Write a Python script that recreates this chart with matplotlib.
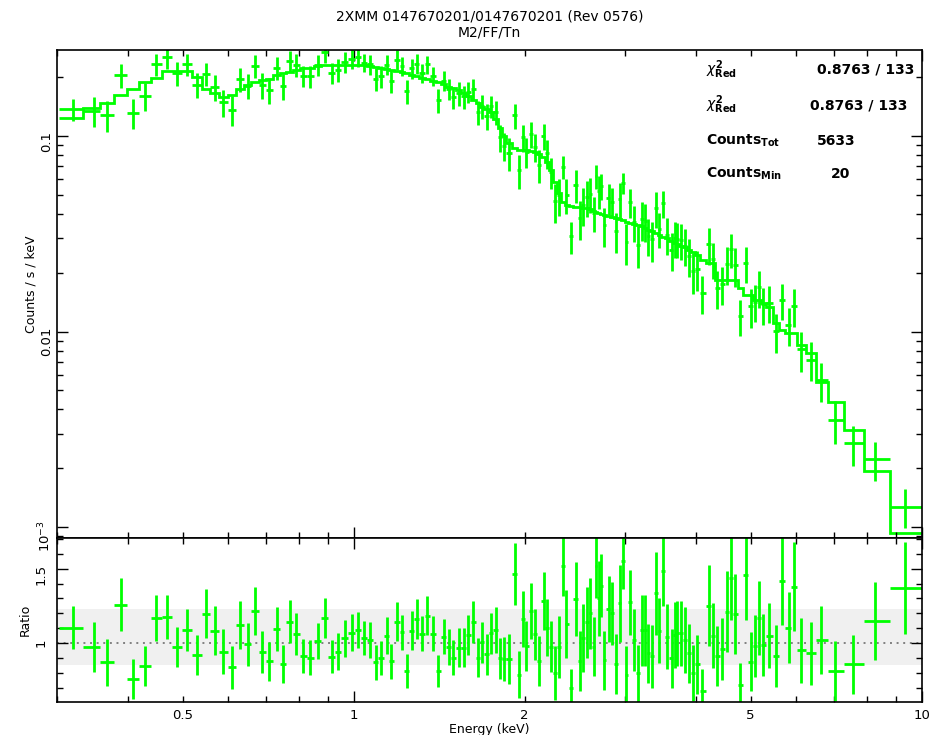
import numpy as np
import matplotlib
matplotlib.use('Agg')
import matplotlib.pyplot as plt

plt.rcParams['font.family'] = ['DejaVu Sans']
plt.rcParams['mathtext.fontset'] = 'dejavusans'

# bin centres in keV
energy = [0.320, 0.348, 0.368, 0.389, 0.409, 0.429, 0.449, 0.469, 0.489, 0.509,
          0.530, 0.549, 0.569, 0.589, 0.610, 0.631, 0.650, 0.670, 0.690, 0.710,
          0.731, 0.751, 0.771, 0.792, 0.814, 0.838, 0.864, 0.889, 0.915, 0.938,
          0.964, 0.991, 1.015, 1.040, 1.068, 1.093, 1.116, 1.142, 1.165, 1.193,
          1.216, 1.239, 1.266, 1.290, 1.317, 1.348, 1.381, 1.407, 1.441, 1.471,
          1.497, 1.531, 1.563, 1.588, 1.623, 1.654, 1.683, 1.713, 1.746, 1.777,
          1.808,
          1.838, 1.875, 1.919, 1.952, 1.984, 2.014, 2.053, 2.083, 2.117, 2.160,
          2.190, 2.226, 2.265, 2.295, 2.333, 2.368, 2.413, 2.459, 2.499, 2.534,
          2.575, 2.610, 2.653, 2.674, 2.699, 2.725, 2.762, 2.810, 2.850, 2.891,
          2.938, 2.979, 3.019, 3.068, 3.118, 3.165, 3.217, 3.260, 3.304, 3.350,
          3.404, 3.454, 3.502, 3.559, 3.632, 3.681, 3.715, 3.766, 3.833, 3.895,
          3.954, 4.019, 4.110, 4.230, 4.289, 4.358, 4.458, 4.549, 4.613, 4.694,
          4.790, 4.900, 5.000, 5.088, 5.177, 5.248, 5.391, 5.539,
          5.682, 5.831, 5.958, 6.129, 6.381, 6.664, 7.033, 7.574, 8.293, 9.337]

# folded model, counts/s/keV (step curve in top panel)
model = [0.124, 0.1386, 0.148, 0.163, 0.1738, 0.1896, 0.1987, 0.2158, 0.2158, 0.214,
         0.1995, 0.1738, 0.165, 0.158, 0.163, 0.1738, 0.1824, 0.188, 0.193, 0.196,
         0.205, 0.209, 0.212, 0.218, 0.222, 0.224, 0.228, 0.230, 0.231, 0.232,
         0.232, 0.232, 0.232, 0.230, 0.229, 0.226, 0.224, 0.221, 0.218, 0.215,
         0.212, 0.209, 0.205, 0.202, 0.199, 0.196, 0.192, 0.188, 0.184, 0.179,
         0.175, 0.171, 0.165, 0.160, 0.153, 0.147, 0.141, 0.137, 0.133, 0.122,
         0.110,
         0.100, 0.092, 0.087, 0.085, 0.0848, 0.0845, 0.084, 0.083, 0.081, 0.078,
         0.074, 0.067, 0.058, 0.051, 0.046, 0.0445, 0.044, 0.0436, 0.0433, 0.043,
         0.0427, 0.0423, 0.0415, 0.041, 0.0405, 0.040, 0.0395, 0.039, 0.0385, 0.038,
         0.0375, 0.037, 0.0365, 0.036, 0.0355, 0.035, 0.0345, 0.034, 0.0332, 0.0325,
         0.032, 0.031, 0.0305, 0.030, 0.0292, 0.0285, 0.028, 0.0275, 0.027, 0.0262,
         0.0255, 0.0245, 0.0233, 0.0223, 0.0223, 0.0183, 0.0183, 0.0183, 0.0183, 0.0183,
         0.01665, 0.0154, 0.0154, 0.01447, 0.01447, 0.0140, 0.0134, 0.0110,
         0.0102, 0.0098, 0.0098, 0.00853, 0.00774, 0.00553, 0.00437, 0.00313, 0.00194, 0.00093]

# data / model
ratio = [1.103, 0.973, 0.869, 1.257, 0.757, 0.845, 1.171, 1.176, 0.973, 1.088,
         0.919, 1.198, 1.083, 0.941, 0.836, 1.122, 0.991, 1.216, 0.941, 0.878,
         1.092, 0.860, 1.144, 1.059, 0.914, 0.901, 1.014, 1.167, 0.908, 0.941,
         1.032, 1.070, 1.090, 1.032, 1.020, 0.869, 0.901, 1.050, 0.878, 1.144,
         1.072, 0.811, 1.083, 1.162, 1.061, 1.185, 1.061, 0.811, 1.043, 0.975,
         0.901, 0.968, 0.968, 1.054, 1.140, 0.901, 1.005, 0.923, 1.065, 1.088,
         0.896,
         0.892, 0.892, 1.464, 0.788, 1.162, 0.982, 1.216, 1.059, 0.878, 1.284,
         1.104, 0.975, 0.799, 0.975, 1.516, 1.126, 0.698, 1.295, 0.878, 1.032,
         1.140, 1.200, 0.975, 1.516, 1.300, 1.387, 0.883, 1.230, 1.200, 0.860,
         1.268, 1.554, 0.788, 1.275, 1.020, 0.795, 1.086, 1.086, 0.930, 0.910,
         1.336, 1.083, 1.482, 1.043, 0.896, 1.054, 1.065, 1.065, 1.020, 0.930,
         0.800, 0.856, 0.676, 1.252, 1.050, 0.914, 0.960, 1.212, 1.437, 1.198,
         0.718, 1.455, 0.874, 0.982, 1.167, 0.986, 1.050, 0.914,
         1.419, 1.104, 1.380, 0.950, 0.930, 1.020, 0.811, 0.856, 1.149, 1.370]

ratio_err = [0.143, 0.167, 0.157, 0.178, 0.135, 0.137, 0.155, 0.150, 0.133, 0.142,
             0.135, 0.165, 0.163, 0.151, 0.143, 0.160, 0.146, 0.160, 0.141, 0.132,
             0.149, 0.130, 0.146, 0.140, 0.115, 0.118, 0.120, 0.135, 0.113, 0.124,
             0.124, 0.124, 0.122, 0.113, 0.120, 0.115, 0.113, 0.124, 0.118, 0.133,
             0.120, 0.113, 0.130, 0.135, 0.118, 0.130, 0.118, 0.110, 0.120, 0.120,
             0.117, 0.132, 0.130, 0.133, 0.140, 0.130, 0.139, 0.135, 0.140, 0.157,
             0.140,
             0.150, 0.170, 0.210, 0.158, 0.188, 0.169, 0.188, 0.170, 0.170, 0.197,
             0.190, 0.173, 0.180, 0.210, 0.200, 0.230, 0.130, 0.250, 0.200, 0.230,
             0.240, 0.240, 0.200, 0.210, 0.250, 0.210, 0.200, 0.220, 0.210, 0.200,
             0.260, 0.190, 0.190, 0.220, 0.210, 0.190, 0.240, 0.240, 0.200, 0.210,
             0.280, 0.220, 0.230, 0.220, 0.200, 0.220, 0.220, 0.220, 0.220, 0.200,
             0.190, 0.200, 0.150, 0.270, 0.220, 0.200, 0.210, 0.270, 0.280, 0.270,
             0.150, 0.300, 0.200, 0.210, 0.250, 0.210, 0.220, 0.210,
             0.300, 0.240, 0.300, 0.220, 0.210, 0.230, 0.200, 0.200, 0.260, 0.310]

e_lo, e_hi = 0.303, 10.0
band_lo, band_hi = 0.85, 1.23

title1 = '2XMM 0147670201/0147670201 (Rev 0576)'
title2 = 'M2/FF/Tn'
stat_labels = [r'$\chi^{\mathbf{2}}_{\mathbf{Red}}$', r'$\chi^{\mathbf{2}}_{\mathbf{Red}}$',
               r'$\mathbf{Counts}_{\mathbf{Tot}}$', r'$\mathbf{Counts}_{\mathbf{Min}}$']
stat_values = ['0.8763 / 133', '0.8763 / 133', '5633', '20']

e = np.array(energy)
mod = np.array(model)
r = np.array(ratio)
rerr = np.array(ratio_err)

edges = np.concatenate([[e_lo], np.sqrt(e[:-1] * e[1:]), [e_hi]])
xerr = [e - edges[:-1], edges[1:] - e]
counts = mod * r
counts_err = mod * rerr

green = '#00ff00'

fig = plt.figure(figsize=(9.42, 7.35), dpi=100)
ax1 = fig.add_axes([0.0605, 0.268, 0.9183, 0.664])
ax2 = fig.add_axes([0.0605, 0.0449, 0.9183, 0.2231])

ax1.stairs(mod, edges, color=green, lw=2, baseline=None)
ax1.errorbar(e, counts, xerr=xerr, yerr=counts_err, fmt='none',
             ecolor=green, elinewidth=2, capsize=0)

ax2.axhspan(band_lo, band_hi, color='#f0f0f0', lw=0, zorder=0)
ax2.axhline(1.0, color='#808080', lw=1.4, ls=(0, (1, 2.4)), zorder=1)
ax2.errorbar(e, r, xerr=xerr, yerr=rerr, fmt='none',
             ecolor=green, elinewidth=2, capsize=0, zorder=2)

minor_x = [0.3, 0.4, 0.5, 0.6, 0.7, 0.8, 0.9, 2, 3, 4, 5, 6, 7, 8, 9]
minor_x_lab = ['', '', '0.5', '', '', '', '', '2', '', '', '5', '', '', '', '']

for ax in (ax1, ax2):
    ax.set_xscale('log')
    ax.set_xlim(0.302, 10.02)
    ax.set_xticks([1, 10], ['1', '10'])
    ax.set_xticks(minor_x, minor_x_lab, minor=True)
    ax.tick_params(which='both', direction='in', top=True, right=True,
                   width=1, labelsize=9.5)
    ax.tick_params(which='major', length=8)
    ax.tick_params(which='minor', length=4.5)
    ax.tick_params(axis='x', which='both', pad=5)
    ax.tick_params(axis='y', labelrotation=90)
    for s in ax.spines.values():
        s.set_linewidth(1.2)

ax1.tick_params(axis='x', which='both', labelbottom=False)

ax1.set_yscale('log')
ax1.set_ylim(8.8e-4, 0.2754)
ax1.set_yticks([1e-3, 1e-2, 1e-1], [r'$10^{-3}$', '0.01', '0.1'])
ax1.set_yticks([k * 10.0 ** d for d in (-4, -3, -2, -1) for k in range(2, 10)
                if 8.8e-4 < k * 10.0 ** d < 0.2754], minor=True)
ax1.tick_params(axis='y', which='both', pad=3)
ax1.set_ylabel('Counts / s / keV', fontsize=9)
ax1.yaxis.set_label_coords(-0.022, 0.52)

ax2.set_ylim(0.603, 1.707)
ax2.set_yticks([1, 1.5], ['1', '1.5'])
ax2.set_yticks([0.7, 0.8, 0.9, 1.1, 1.2, 1.3, 1.4, 1.6, 1.7], minor=True)
ax2.tick_params(axis='y', which='both', pad=7)
ax2.set_ylabel('Ratio', fontsize=9)
ax2.yaxis.set_label_coords(-0.029, 0.5)
ax2.set_xlabel('Energy (keV)', fontsize=9, labelpad=1)

ax1.text(0.5, 1.0676, title1, transform=ax1.transAxes, ha='center', va='center', fontsize=10)
ax1.text(0.5, 1.0348, title2, transform=ax1.transAxes, ha='center', va='center', fontsize=10)

label_y = [0.959, 0.887, 0.814, 0.746]
value_x = [0.879, 0.871, 0.879, 0.895]
for lab, val, yy, xx in zip(stat_labels, stat_values, label_y, value_x):
    ax1.text(0.750, yy, lab, transform=ax1.transAxes, ha='left', va='center', fontsize=10)
    ax1.text(xx, yy, val, transform=ax1.transAxes, ha='left', va='center',
             fontsize=10, fontweight='bold')

fig.savefig('out.png', dpi=100)
